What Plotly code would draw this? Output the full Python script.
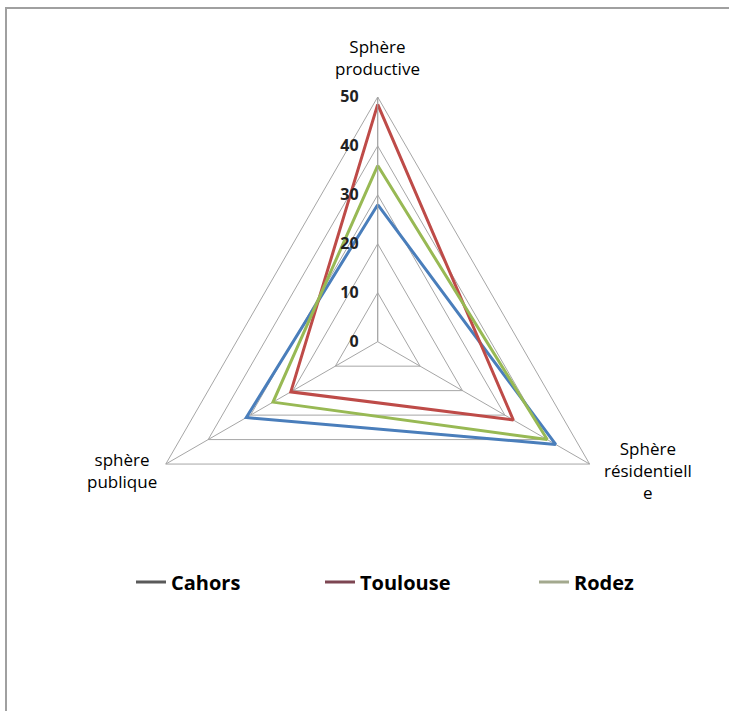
import math
import plotly.graph_objects as go

categories = ["Sphère productive", "Sphère résidentielle", "sphère publique"]
category_labels = ["Sphère<br>productive", "Sphère<br>résidentiell<br>e", "sphère<br>publique"]
series_names = ["Cahors", "Toulouse", "Rodez"]
cahors = [28, 42, 31]
toulouse = [48.5, 32, 20.5]
rodez = [36, 40, 24.7]
radial_ticks = [0, 10, 20, 30, 40, 50]

line_colors = ["#4a7ebb", "#be4b48", "#98b954"]
legend_colors = ["#5a5a5a", "#7d4652", "#a3a98e"]
legend_ids = ["legend", "legend2", "legend3"]
legend_x = [131, 320, 534]
values = [cahors, toulouse, rodez]

W, H = 729, 711
fig = go.Figure()

for name, vals, col in zip(series_names, values, line_colors):
    fig.add_trace(go.Scatterpolar(
        r=vals + vals[:1], theta=categories + categories[:1],
        mode="lines", line=dict(color=col, width=3),
        name=name, showlegend=False, hoverinfo="skip"))

for name, col, lid in zip(series_names, legend_colors, legend_ids):
    fig.add_trace(go.Scatterpolar(
        r=[None], theta=[categories[0]], mode="lines",
        line=dict(color=col, width=3), name=name, showlegend=True, legend=lid))

legend_font = dict(family="Open Sans", size=20, color="black", weight="bold")
legends = {}
for lid, lx in zip(legend_ids, legend_x):
    legends[lid] = dict(x=lx / W, xanchor="left", y=1 - 582 / H, yanchor="middle",
                        font=legend_font, bgcolor="rgba(0,0,0,0)", borderwidth=0)

cx, cy, R = 377.7, 341.7, 244.7
# vertex positions of the outer triangle (pixels), for placing category labels
angles = [90, -30, 210]
verts = [(cx + R * math.cos(math.radians(a)), cy - R * math.sin(math.radians(a))) for a in angles]
label_font = dict(family="Open Sans", size=17, color="black")
annotations = [
    dict(text=category_labels[0], x=verts[0][0] / W, y=1 - (verts[0][1] - 15) / H,
         xanchor="center", yanchor="bottom"),
    dict(text=category_labels[1], x=(verts[1][0] + 12) / W, y=1 - (verts[1][1] + 6) / H,
         xanchor="left", yanchor="middle"),
    dict(text=category_labels[2], x=(verts[2][0] - 7) / W, y=1 - (verts[2][1] + 6) / H,
         xanchor="right", yanchor="middle"),
]
for a in annotations:
    a.update(xref="paper", yref="paper", showarrow=False, align="center", font=label_font)

fig.update_layout(
    width=W, height=H,
    margin=dict(l=0, r=0, t=0, b=0),
    paper_bgcolor="white",
    font=dict(family="Open Sans", color="black"),
    polar=dict(
        domain=dict(x=[(cx - R) / W, (cx + R) / W], y=[1 - (cy + R) / H, 1 - (cy - R) / H]),
        bgcolor="white",
        gridshape="linear",
        radialaxis=dict(
            range=[0, 50], tickvals=radial_ticks, angle=90, tickangle=90,
            showline=True, linecolor="#a6a6a6", linewidth=1,
            gridcolor="#a6a6a6", gridwidth=1,
            ticks="outside", ticklen=13, tickcolor="rgba(0,0,0,0)",
            tickfont=dict(family="Open Sans", size=16, color="#222", weight="bold"),
            side="counterclockwise"),
        angularaxis=dict(
            rotation=90, direction="clockwise",
            showline=True, linecolor="#a6a6a6", linewidth=1,
            gridcolor="#a6a6a6", gridwidth=1,
            ticks="", showticklabels=False),
    ),
    annotations=annotations,
    shapes=[dict(type="rect", xref="paper", yref="paper",
                 x0=6 / W, x1=1.02, y0=-0.02, y1=1 - 8 / H,
                 line=dict(color="#a0a0a0", width=2))],
    **legends,
)

fig.write_html("out.html", config={"displayModeBar": False},
               post_script="document.body.style.margin='0';document.body.style.overflow='hidden';")
